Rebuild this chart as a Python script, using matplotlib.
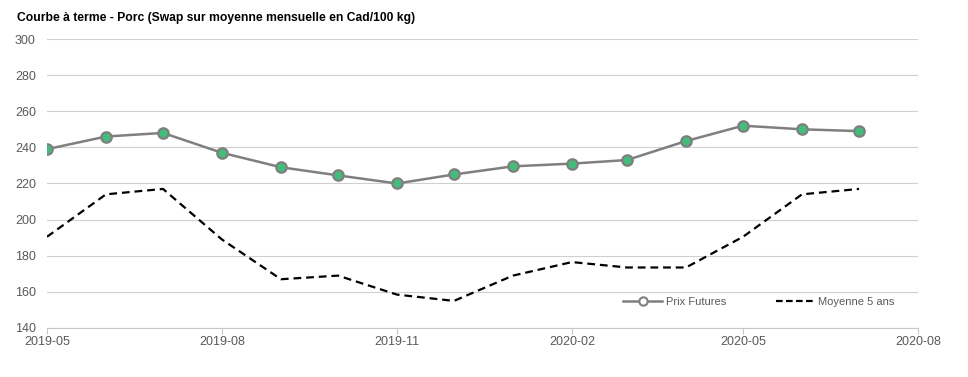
import matplotlib
matplotlib.use("Agg")
import matplotlib.pyplot as plt
import matplotlib.dates as mdates
import numpy as np
import pandas as pd

plt.rcParams['font.family'] = ['Liberation Sans', 'DejaVu Sans']

months = pd.date_range("2019-05-01", periods=15, freq="MS")
prix_futures = [239, 246, 248, 237, 229, 224.5, 220, 225, 229.5, 231, 233, 243.5, 252, 250, 249]
moyenne_5ans = [190.5, 214, 217, 189, 167, 169, 158.5, 155, 169, 176.5, 173.5, 173.5, 190.5, 214, 217]
tick_dates = pd.date_range("2019-05-01", "2020-08-01", freq="3MS")
tick_labels = [d.strftime("%Y-%m") for d in tick_dates]

fig = plt.figure(figsize=(9.68, 3.77), dpi=100)
ax = fig.add_axes([47/968, 1 - 328/377, (918-47)/968, (328-39)/377])

ax.plot(months, prix_futures, color='#7f7f7f', lw=1.8, marker='o', ms=7.5,
        markerfacecolor='#43bd7a', markeredgecolor='#7f7f7f', markeredgewidth=1.6,
        label='Prix Futures', zorder=3)
ax.plot(months, moyenne_5ans, color='black', lw=1.6, ls=(0, (3.5, 2.2)),
        label='Moyenne 5 ans', zorder=2)

ax.set_ylim(140, 300)
ax.set_yticks(np.arange(140, 301, 20))
ax.set_xlim(tick_dates[0], tick_dates[-1])
ax.set_xticks(tick_dates)
ax.set_xticklabels(tick_labels)

ax.grid(axis='y', color='#d0d0d0', lw=0.8)
ax.set_axisbelow(True)
for s in ['top', 'right', 'left']:
    ax.spines[s].set_visible(False)
ax.spines['bottom'].set_color('#c8c8c8')
ax.spines['bottom'].set_linewidth(0.8)
ax.tick_params(axis='y', length=0, colors='#595959', labelsize=9, pad=8)
ax.tick_params(axis='x', length=4, color='#c8c8c8', colors='#595959', labelsize=9, pad=2)
for lbl in ax.get_yticklabels():
    lbl.set_horizontalalignment('right')

from matplotlib.lines import Line2D
h1 = Line2D([], [], color='#7f7f7f', lw=1.8, marker='o', ms=6, markerfacecolor='white',
            markeredgecolor='#7f7f7f', markeredgewidth=1.5)
h2 = Line2D([], [], color='black', lw=1.6, ls=(0, (3, 1.5)))
leg = ax.legend([h1, h2], ['Prix Futures', 'Moyenne 5 ans'], ncol=2, frameon=False,
                loc='center', bbox_to_anchor=((759 - 47) / 871, (328 - 302) / 289),
                fontsize=8, handlelength=3.5, columnspacing=4.5, handletextpad=0.3)
for t in leg.get_texts():
    t.set_color('#595959')

fig.text(17/968, 1 - 18/377, "Courbe à terme - Porc (Swap sur moyenne mensuelle en Cad/100 kg)",
         fontsize=8.7, fontweight='bold', va='center', ha='left', color='black')

fig.savefig("out.png", dpi=100)
